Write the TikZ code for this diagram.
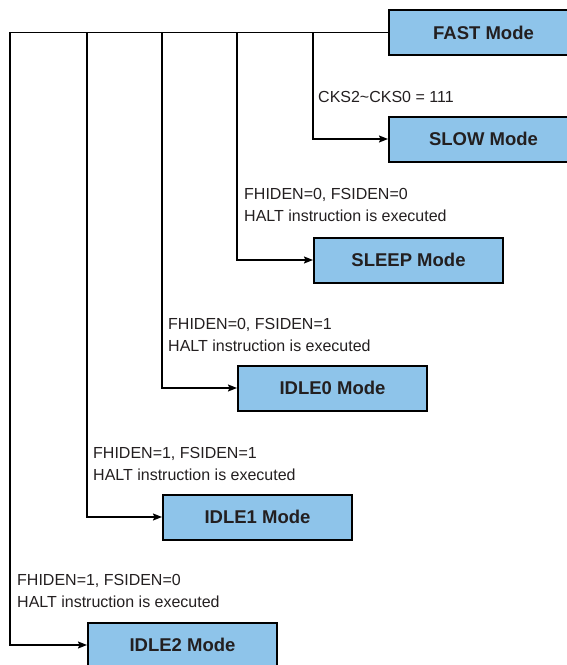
\documentclass[tikz,border=0pt]{standalone}
\usepackage{fontspec}
\setmainfont{Liberation Sans}
\usetikzlibrary{arrows.meta}
\definecolor{modefill}{RGB}{142,196,234}
\definecolor{inkgray}{RGB}{35,31,32}
\tikzset{
  mode/.style={draw=black, line width=2pt, fill=modefill, text=inkgray, anchor=west,
    minimum width=189pt, minimum height=45pt, font=\fontsize{18.5}{22}\selectfont\bfseries},
  cond/.style={anchor=north west, align=left, inner sep=0pt, text=inkgray,
    font=\fontsize{16}{22.5}\selectfont}
  }
\tikzstyle{wire} = [draw, line width=1.5pt, -]
\tikzstyle{flow} = [draw, line width=1.5pt, -{Stealth[length=9pt,width=7pt,inset=1.5pt]}]

\begin{document}
\begin{tikzpicture}[x=1pt, y=-1pt]
  \useasboundingbox (0,0) rectangle (567,665);

  % mode boxes
  \node[mode] (fast)  at (388,32.5) {FAST Mode};
  \node[mode] (slow)  at (388,139)  {SLOW Mode};
  \node[mode] (sleep) at (313,260)  {SLEEP Mode};
  \node[mode] (idle0) at (237,388)  {IDLE0 Mode};
  \node[mode] (idle1) at (162,517)  {IDLE1 Mode};
  \node[mode] (idle2) at (87,645)   {IDLE2 Mode};

  % conditions
  \node[cond] (cks)   at (318,91)  {CKS2\textasciitilde CKS0 = 111};
  \node[cond] (cslp)  at (244,188) {FHIDEN=0, FSIDEN=0\\HALT instruction is executed};
  \node[cond] (cid0)  at (168,318) {FHIDEN=0, FSIDEN=1\\HALT instruction is executed};
  \node[cond] (cid1)  at (93,447)  {FHIDEN=1, FSIDEN=1\\HALT instruction is executed};
  \node[cond] (cid2)  at (17,574)  {FHIDEN=1, FSIDEN=0\\HALT instruction is executed};

  % connectors
  \foreach \x/\name in {313/slow, 237/sleep, 162/idle0, 87/idle1, 10/idle2} {
      \coordinate (t\name) at (\x,32.5);
      \path[flow] (t\name) |- (\name.west);
  }
  \path[wire] (fast.west) -- ([xshift=-0.75pt]tidle2);

\end{tikzpicture}
\end{document}
